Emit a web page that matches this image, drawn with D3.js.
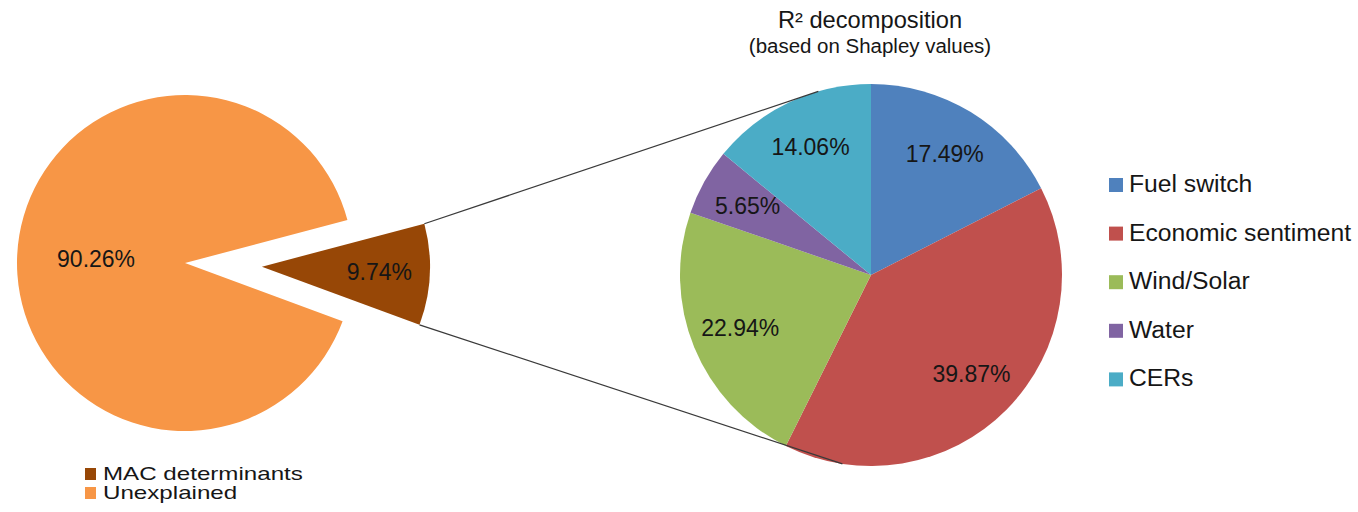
<!DOCTYPE html>
<html>
<head>
<meta charset="utf-8">
<script src="https://cdn.jsdelivr.net/npm/d3@7"></script>
<style>
  body { margin: 0; background: #fff; }
  svg { display: block; font-family: "Liberation Sans", Arial, sans-serif; }
</style>
</head>
<body>
<div id="chart"></div>
<script>
// left pie: share of R² explained
var mainLabels = ["MAC determinants", "Unexplained"];
var mainValues = [9.74, 90.26];
var mainColors = ["#974706", "#F79646"];

// right pie: decomposition of the explained part (Shapley values)
var subLabels = ["Fuel switch", "Economic sentiment", "Wind/Solar", "Water", "CERs"];
var subValues = [17.49, 39.87, 22.94, 5.65, 14.06];
var subColors = ["#4F81BD", "#C0504D", "#9BBB59", "#8064A2", "#4BACC6"];

var W = 1358, H = 512;
var deg = Math.PI / 180;

var svg = d3.select("#chart")
  .append("svg")
    .attr("width", W)
    .attr("height", H);

// text helper, the reference glyphs are a bit wider than Arial
function addText(x, y, str, size, sx, anchor) {
  return svg.append("text")
    .attr("transform", "translate(" + x + "," + y + ") scale(" + sx + ",1)")
    .attr("text-anchor", anchor || "start")
    .style("font-size", size + "px")
    .style("fill", "#161616")
    .text(str);
}

// ---------- left pie ----------
var leftC = {x: 185, y: 263};
var leftR = 168;
var explode = 77;
var start = 75.2 * deg;

var mainPie = d3.pie().sort(null)
  .startAngle(start)
  .endAngle(start + 2 * Math.PI)
  .value(function(d) { return d; });
var mainArcs = mainPie(mainValues);

var arcL = d3.arc().innerRadius(0).outerRadius(leftR);

function offsetOf(d, i) {
  if (i != 0) return [0, 0];
  var m = (d.startAngle + d.endAngle) / 2;
  return [explode * Math.sin(m), -explode * Math.cos(m)];
}

var gL = svg.append("g")
  .attr("transform", "translate(" + leftC.x + "," + leftC.y + ")");

gL.selectAll("path")
  .data(mainArcs)
  .enter()
  .append("path")
    .attr("d", arcL)
    .attr("transform", function(d, i) { var o = offsetOf(d, i); return "translate(" + o[0] + "," + o[1] + ")"; })
    .attr("fill", function(d, i) { return mainColors[i]; });

mainArcs.forEach(function(d, i) {
  var o = offsetOf(d, i);
  var m = (d.startAngle + d.endAngle) / 2;
  var r = i == 0 ? 0.70 * leftR : 0.53 * leftR;
  var x = leftC.x + o[0] + r * Math.sin(m);
  var y = leftC.y + o[1] - r * Math.cos(m);
  addText(x, y + 8, mainValues[i].toFixed(2) + "%", 23, 1.0, "middle");
});

// ---------- right pie ----------
var rightC = {x: 871, y: 275};
var rightR = 191;

var subPie = d3.pie().sort(null).value(function(d) { return d; });
var subArcs = subPie(subValues);
var arcR = d3.arc().innerRadius(0).outerRadius(rightR);

var gR = svg.append("g")
  .attr("transform", "translate(" + rightC.x + "," + rightC.y + ")");

gR.selectAll("path")
  .data(subArcs)
  .enter()
  .append("path")
    .attr("d", arcR)
    .attr("fill", function(d, i) { return subColors[i]; });

subArcs.forEach(function(d, i) {
  var m = (d.startAngle + d.endAngle) / 2;
  var r = 0.74 * rightR;
  var x = rightC.x + r * Math.sin(m);
  var y = rightC.y - r * Math.cos(m);
  addText(x, y + 8, subValues[i].toFixed(2) + "%", 23, 1.0, "middle");
});

// ---------- connector lines ----------
var brown = mainArcs[0];
var bo = offsetOf(brown, 0);
function onLeft(a) {
  return [leftC.x + bo[0] + leftR * Math.sin(a), leftC.y + bo[1] - leftR * Math.cos(a)];
}
function onRight(a) {
  return [rightC.x + rightR * Math.sin(a), rightC.y - rightR * Math.cos(a)];
}
var conn = [
  [onLeft(brown.startAngle), onRight(-16 * deg)],
  [onLeft(brown.endAngle), onRight(188.6 * deg)]
];
svg.append("g")
  .selectAll("line")
  .data(conn)
  .enter()
  .append("line")
    .attr("x1", function(d) { return d[0][0]; })
    .attr("y1", function(d) { return d[0][1]; })
    .attr("x2", function(d) { return d[1][0]; })
    .attr("y2", function(d) { return d[1][1]; })
    .style("stroke", "#3a3a3a")
    .style("stroke-width", 1.3);

// ---------- titles ----------
addText(870, 28, "R\u00B2 decomposition", 23, 1.03, "middle");
addText(870, 53, "(based on Shapley values)", 19.5, 1.05, "middle");

// ---------- legends ----------
var legR = svg.append("g");
subLabels.forEach(function(lab, i) {
  var y = 192 + i * 48.6;
  legR.append("rect")
    .attr("x", 1109)
    .attr("y", y - 14)
    .attr("width", 14)
    .attr("height", 14)
    .attr("fill", subColors[i]);
  addText(1129, y, lab, 23.5, 1.05, "start");
});

mainLabels.forEach(function(lab, i) {
  var y = 480 + i * 19;
  svg.append("rect")
    .attr("x", 85)
    .attr("y", y - 12)
    .attr("width", 11)
    .attr("height", 12)
    .attr("fill", mainColors[i]);
  addText(103, y, lab, 17.5, 1.38, "start");
});
</script>
</body>
</html>
